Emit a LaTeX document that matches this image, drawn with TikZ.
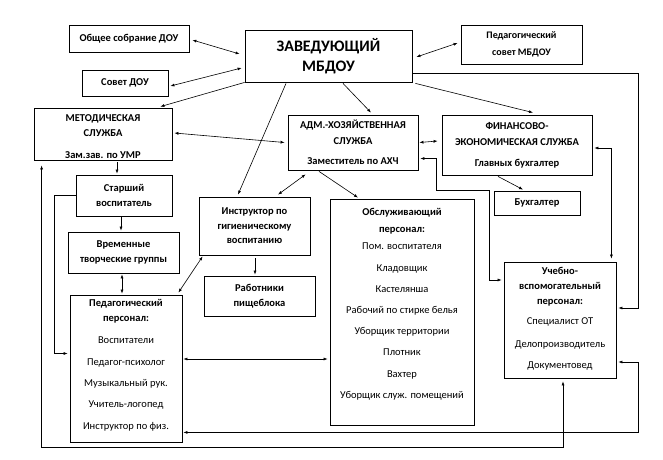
\documentclass[tikz,border=0pt]{standalone}
\usepackage{fontspec}
\setmainfont{Carlito}
\usetikzlibrary{calc,arrows.meta}
\begin{document}
\begin{tikzpicture}[x=1pt,y=-1pt,
  box/.style 2 args={draw,line width=0.8pt,minimum width=#1pt,minimum height=#2pt,inner sep=0pt,align=center,font=\bfseries\fontsize{10.5}{15}\selectfont},
  txt/.style={inner sep=0pt,align=center,anchor=north,font=\fontsize{10.5}{15}\selectfont},
  conn/.style={line width=0.6pt,-{Latex[length=4pt,width=3pt]}},
  biconn/.style={line width=0.6pt,{Latex[length=4pt,width=3pt]}-{Latex[length=4pt,width=3pt]}}]
\useasboundingbox (0,0) rectangle (663,459);
% boxes
\node[box={120}{27}] (obsh) at (129,38.5) {Общее собрание ДОУ};
\node[box={86}{26}] (sovet) at (125,83) {Совет ДОУ};
\node[box={167}{52},font=\bfseries\fontsize{16}{20}\selectfont] (zav) at (328.5,56) {ЗАВЕДУЮЩИЙ\\МБДОУ};
\node[box={121}{39},font=\bfseries\fontsize{10}{17}\selectfont] (pedsov) at (521.5,44.5) {Педагогический\\совет МБДОУ};
\node[box={138}{52}] (metod) at (103,134) {};
\begin{scope}
\clip ($(metod.south west)+(0,-1)$) rectangle (metod.north east);
\node[txt,font=\bfseries\fontsize{10.5}{15}\selectfont] at ([yshift=-7pt]metod.north) {МЕТОДИЧЕСКАЯ\\СЛУЖБА\\[7pt]Зам.зав. по УМР};
\end{scope}
\node[box={96}{41}] (starsh) at (124,195.5) {Старший\\воспитатель};
\node[box={111}{41}] (vrem) at (123.5,252.5) {Временные\\творческие группы};
\node[box={112}{147}] (ped) at (126,368.5) {};
\node[txt] at ([yshift=-5pt]ped.north) {\textbf{Педагогический}\\\textbf{персонал:}\\[7pt]Воспитатели\\[7pt]Педагог-психолог\\[6pt]Музыкальный рук.\\[6pt]Учитель-логопед\\[7pt]Инструктор по физ.};
\node[box={111}{58},font=\bfseries\fontsize{10.5}{14.5}\selectfont] (instr) at (254.5,226) {Инструктор по\\гигиеническому\\воспитанию};
\node[box={111}{40}] (rab) at (259.5,296) {Работники\\пищеблока};
\node[box={130}{55},font=\bfseries\fontsize{10.5}{16}\selectfont] (adm) at (353,142.5) {АДМ.-ХОЗЯЙСТВЕННАЯ\\СЛУЖБА\\[4pt]Заместитель по АХЧ};
\node[box={150}{60},font=\bfseries\fontsize{10.5}{16}\selectfont] (fin) at (517,145) {ФИНАНСОВО-\\ЭКОНОМИЧЕСКАЯ СЛУЖБА\\[5pt]Главных бухгалтер};
\node[box={86}{24}] (buh) at (537,203) {Бухгалтер};
\node[box={144}{226}] (obsl) at (402,312) {};
\node[txt,font=\fontsize{10.5}{17}\selectfont] at ([yshift=-9pt]obsl.north) {\textbf{Обслуживающий}\\\textbf{персонал:}\\Пом. воспитателя\\[5pt]Кладовщик\\[4pt]Кастелянша\\[4pt]Рабочий по стирке белья\\[4pt]Уборщик территории\\[4pt]Плотник\\[5pt]Вахтер\\[4pt]Уборщик служ. помещений};
\node[box={112}{116}] (ucheb) at (560,320) {};
\node[txt] at ([yshift=-5pt]ucheb.north) {\textbf{Учебно-}\\\textbf{вспомогательный}\\\textbf{персонал:}\\[5pt]Специалист ОТ\\[8pt]Делопроизводитель\\[6pt]Документовед};
% connectors
\draw[biconn] ($(obsh.east)+(3,1.5)$) -- ($(zav.west)+(-5,-2)$);
\draw[biconn] ($(sovet.east)+(2,3)$) -- ($(zav.west)+(-3,12)$);
\draw[conn] (zav.south west) -- ($(metod.north east)+(-12,-1)$);
\draw[biconn] ($(zav.east)+(4,1)$) -- ($(pedsov.west)+(-3,-1.5)$);
\draw[conn] ($(zav.south)+(-42.5,1)$) -- ($(instr.north)+(-16.5,-2)$);
\draw[conn] ($(zav.south)+(14.5,1)$) -- ($(adm.north)+(18,-2)$);
\draw[conn] ($(zav.south east)+(3,1)$) -- ($(fin.north)+(16,-2)$);
\draw[conn] ($(zav.east)+(0,17)$) -| ($(ucheb.east)+(22,-12)$) -- ($(ucheb.east)+(2,-12)$);
\draw[biconn] ($(ped.south east)+(1,-10)$) -| ($(ucheb.east)+(22,42)$) -- ($(ucheb.east)+(2,42)$);
\draw[biconn] ($(metod.south west)+(8,5)$) |- ($(ucheb.south)+(3,69)$) -- ($(ucheb.south)+(3,3)$);
\draw[conn] (starsh.west) -- ++(-21,0) |- ($(ped.west)+(-2,-15)$);
\draw[biconn] ($(metod.east)+(2,-1)$) -- ($(adm.west)+(-3,0)$);
\draw[biconn] ($(adm.east)+(1,0)$) -- ($(fin.west)+(-4,-4)$);
\draw[biconn] ($(adm.east)+(2,16)$) -| ($(adm.east)+(18,48)$) -| ($(ucheb.west)+(-14,-40)$) -- ($(ucheb.west)+(-2,-40)$);
\draw[biconn] ($(fin.east)+(2,3)$) -| ($(ucheb.north east)+(-5,-3)$);
\draw[conn] ($(fin.south)+(-19,1)$) -- ($(buh.north)+(-14,-1)$);
\draw[conn] ($(adm.south)+(-34,1)$) -- ($(obsl.north)+(-44,-1)$);
\draw[biconn] ($(adm.south west)+(18,4)$) -- ($(instr.north)+(23.5,-2)$);
\draw[conn] ($(instr.south)+(0.5,3)$) -- ($(rab.north)+(-4.5,-1)$);
\draw[biconn] ($(instr.south west)+(4,1)$) -- ($(ped.north east)+(-4,-2)$);
\draw[conn] ($(metod.south)+(14,2)$) -- ($(starsh.north)+(-7,-1)$);
\draw[conn] ($(starsh.south)+(-3,1)$) -- ($(vrem.north)+(-2.5,-1)$);
\draw[biconn] ($(vrem.south)+(-1.5,1)$) -- ($(ped.north)+(-4,-1)$);
\draw[biconn] ($(ped.east)+(1,-9.5)$) -- ($(obsl.west)+(-2,47)$);
\end{tikzpicture}
\end{document}
